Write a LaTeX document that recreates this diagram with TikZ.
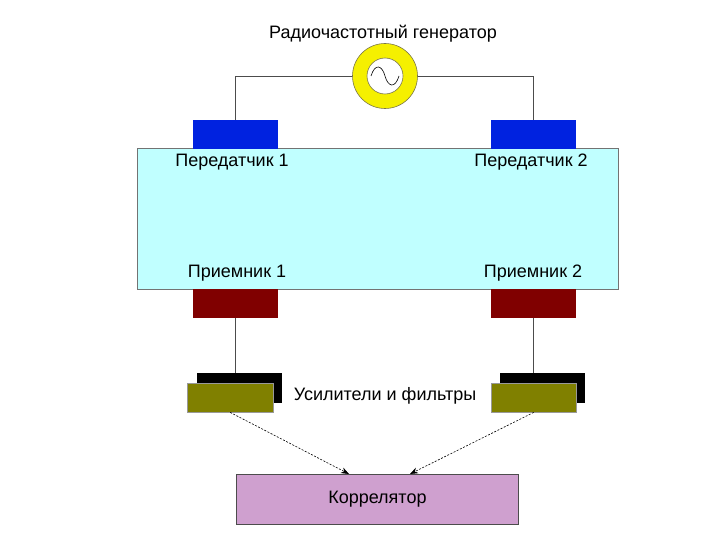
\documentclass[tikz,border=0pt]{standalone}
\usepackage{fontspec}
\setmainfont{Liberation Sans}
\usetikzlibrary{arrows.meta,calc}
\definecolor{cyanbg}{HTML}{C0FFFF}
\definecolor{txblue}{HTML}{0022E0}
\definecolor{rxred}{HTML}{800000}
\definecolor{olivebox}{HTML}{808000}
\definecolor{plumbox}{HTML}{CFA0CF}
\definecolor{genyellow}{HTML}{F5F000}
\tikzset{
  lbl/.style={font=\fontsize{18}{20}\selectfont, inner sep=0pt},
  wire/.style={draw=black!70, line width=0.8pt},
  blk/.style={draw=none, inner sep=0pt, minimum width=85pt, minimum height=29pt, anchor=north west},
  arr/.style={draw=black, line width=0.6pt, dashed, dash pattern=on 2pt off 1.5pt, -{Stealth[length=8pt,width=6pt]}}
}
\begin{document}
\begin{tikzpicture}[x=1pt,y=-1pt]
\useasboundingbox (0,0) rectangle (720,540);
% title and generator
\node[lbl] (title) at (383,34) {Радиочастотный генератор};
\node[circle, draw=black!60!yellow, line width=0.6pt, fill=genyellow, minimum size=65pt, inner sep=0pt] (gen) at (385,76) {};
\node[circle, draw=black!60!yellow, line width=0.6pt, fill=white, minimum size=36pt, inner sep=0pt] (genin) at (gen.center) {};
\draw[line width=0.6pt] ($(gen)+(-14,0)$) .. controls ($(gen)+(-10,-13)$) and ($(gen)+(-3,-11)$) .. ($(gen)$) .. controls ($(gen)+(3,11)$) and ($(gen)+(10,13)$) .. ($(gen)+(14,0)$);
% big cyan body
\node[draw=black!55, fill=cyanbg, line width=0.8pt, minimum width=481pt, minimum height=141pt, inner sep=0pt, anchor=north west] (body) at (137,148) {};
% transmitters
\node[blk, fill=txblue] (tx1) at (193,120) {};
\node[blk, fill=txblue] (tx2) at (491,120) {};
% receivers
\node[blk, fill=rxred] (rx1) at (193,289) {};
\node[blk, fill=rxred] (rx2) at (491,289) {};
% labels
\node[lbl] (ltx1) at (232,162) {Передатчик 1};
\node[lbl] (ltx2) at (531,162) {Передатчик 2};
\node[lbl] (lrx1) at (237,273) {Приемник 1};
\node[lbl] (lrx2) at (533,273) {Приемник 2};
% amplifiers
\node[blk, fill=black, minimum width=85pt, minimum height=30pt] (sh1) at (197,373) {};
\node[blk, fill=olivebox, draw=black!40, line width=0.4pt, minimum width=86pt, minimum height=29pt] (am1) at (187,383) {};
\node[blk, fill=black, minimum width=85pt, minimum height=30pt] (sh2) at (500,373) {};
\node[blk, fill=olivebox, draw=black!40, line width=0.4pt, minimum width=85pt, minimum height=29pt] (am2) at (491,383) {};
\node[lbl] (lam) at (385,396) {Усилители и фильтры};
% correlator
\node[draw=black!70, fill=plumbox, line width=0.8pt, minimum width=282pt, minimum height=50pt, inner sep=0pt, anchor=north west] (corr) at (236,474) {};
\node[lbl] (lcorr) at (corr.center) {Коррелятор};
% wires
\draw[wire] (gen.west) -| (tx1.north);
\draw[wire] (gen.east) -| (tx2.north);
\draw[wire] (rx1.south) -- (sh1.north -| rx1.south);
\draw[wire] (rx2.south) -- (sh2.north -| rx2.south);
% arrows
\coordinate (c1) at (349,474);
\coordinate (c2) at (410,474);
\draw[arr] (am1.south) -- (c1);
\draw[arr] (am2.south) -- (c2);
\end{tikzpicture}
\end{document}
